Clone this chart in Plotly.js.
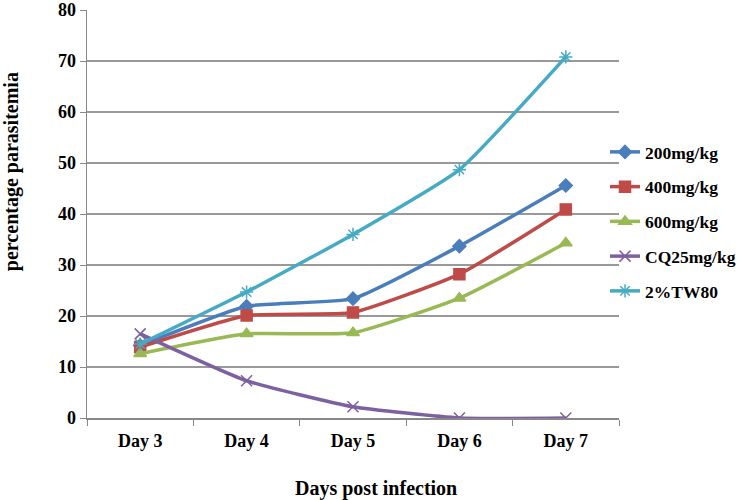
<!DOCTYPE html>
<html><head><meta charset="utf-8">
<script src="https://cdn.plot.ly/plotly-3.0.1.min.js"></script>
<style>html,body{margin:0;padding:0;background:#fff}#chart{width:750px;height:500px}</style>
</head><body><div id="chart"></div>
<script>
const days = ["Day 3","Day 4","Day 5","Day 6","Day 7"];
const seriesNames = ["200mg/kg","400mg/kg","600mg/kg","CQ25mg/kg","2%TW80"];
const s200 = [14.2, 21.9, 23.4, 33.7, 45.6];
const s400 = [13.9, 20.1, 20.7, 28.2, 40.9];
const s600 = [12.6, 16.5, 16.7, 23.5, 34.3];
const sCQ = [16.5, 7.3, 2.2, 0, 0];
const sTW = [14.5, 24.7, 36.0, 48.7, 70.8];
const yTicks = [0,10,20,30,40,50,60,70,80];
const xTitle = "Days post infection";
const yTitle = "percentage parasitemia";

const colors = ["#4A7EBB","#BE4B48","#98B954","#7D60A0","#46AAC5"];
const symbols = ["diamond","square","triangle-up","x-thin-open","asterisk-open"];
const sizes = [10,11,11,11,11];
const allSeries = [s200,s400,s600,sCQ,sTW];

const traces = allSeries.map((ys,i)=>({
  x: days, y: ys, name: seriesNames[i], type: "scatter", mode: "lines+markers",
  legendgroup: "g"+i,
  line: {color: colors[i], width: 3.5, shape: "spline", smoothing: 0.45},
  marker: {symbol: symbols[i], size: sizes[i], color: colors[i], line: {color: colors[i], width: 1.5}}
}));

const L = 87, R = 620, T = 10, B = 418;
const W = R - L, H = B - T;
const layout = {
  width: 750, height: 500,
  margin: {l: L, r: 750 - R, t: T, b: 500 - B},
  paper_bgcolor: "#fff", plot_bgcolor: "#fff",
  font: {family: "Liberation Serif, Times New Roman, serif", color: "#000"},
  showlegend: true,
  legend: {x: (605 - L) / W, y: (B - 134) / H, xanchor: "left", yanchor: "top",
    font: {size: 17.5, family: "Liberation Serif, serif", weight: "bold"},
    tracegroupgap: 9, bgcolor: "rgba(0,0,0,0)"},
  xaxis: {
    type: "category", range: [-0.5, 4.5], showgrid: false, showline: true, linecolor: "#888", linewidth: 1.5,
    ticks: "outside", ticklen: 6, tickcolor: "#888", tickson: "boundaries", ticklabelstandoff: 6,
    tickfont: {size: 18, family: "Liberation Serif, serif", weight: "bold"},
    zeroline: false
  },
  yaxis: {
    range: [0, 80], tickvals: yTicks, showgrid: true, gridcolor: "#999", gridwidth: 1.5,
    showline: true, linecolor: "#888", linewidth: 1.5, ticks: "outside", ticklen: 6, tickcolor: "#888",
    tickfont: {size: 18, family: "Liberation Serif, serif", weight: "bold"},
    zeroline: false
  },
  annotations: [
    {text: "<b>" + xTitle + "</b>", xref: "paper", yref: "paper", x: (377 - L) / W, y: (B - 488) / H,
     xanchor: "center", yanchor: "middle", showarrow: false, font: {size: 20, family: "Liberation Serif, serif"}},
    {text: "<b>" + yTitle + "</b>", xref: "paper", yref: "paper", x: (11 - L) / W, y: (B - 172) / H,
     xanchor: "center", yanchor: "middle", textangle: -90, showarrow: false, font: {size: 20, family: "Liberation Serif, serif"}}
  ]
};
Plotly.newPlot("chart", traces, layout, {displayModeBar: false, staticPlot: true});
</script></body></html>
